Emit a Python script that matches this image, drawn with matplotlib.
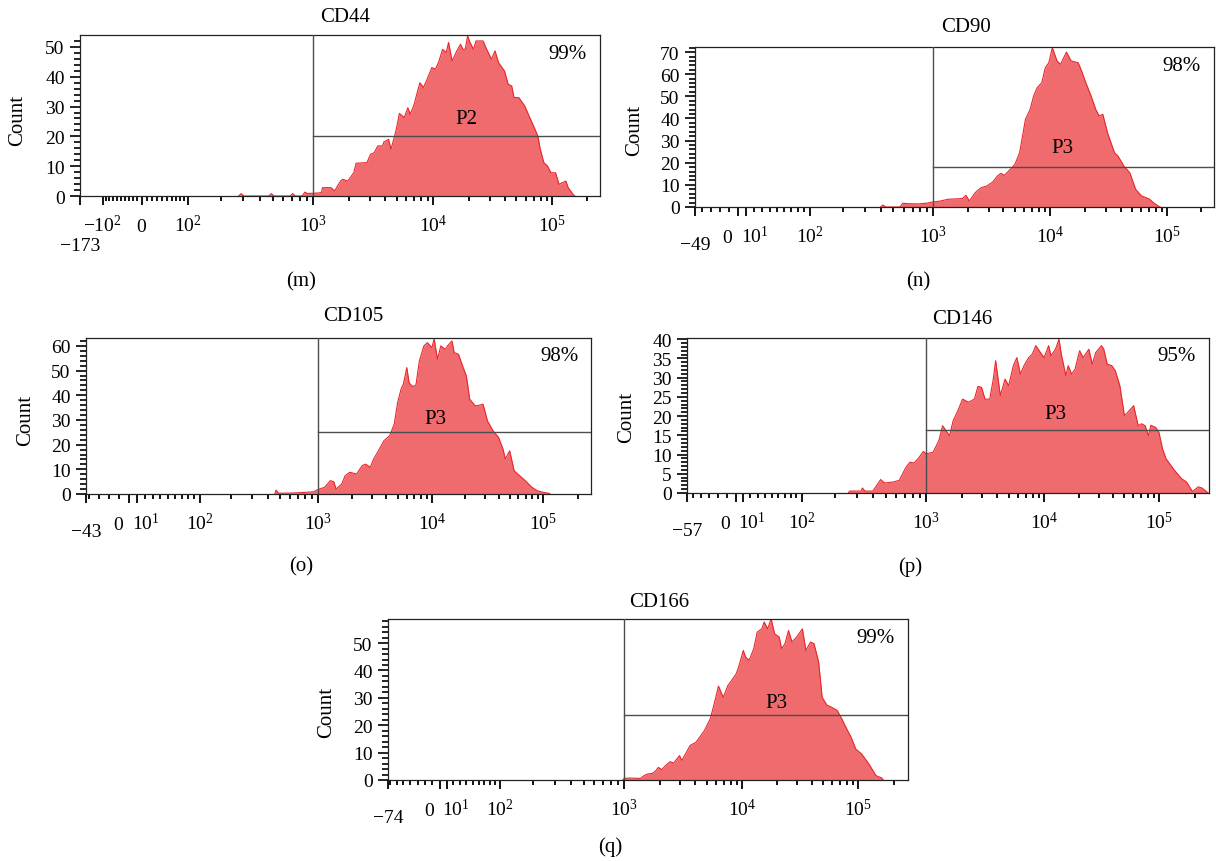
import numpy as np
import matplotlib
matplotlib.use('Agg')
import matplotlib.pyplot as plt
import matplotlib.transforms as mtransforms

plt.rcParams['font.family'] = ['Liberation Serif', 'DejaVu Serif']
plt.rcParams['mathtext.fontset'] = 'custom'
plt.rcParams['mathtext.rm'] = 'Liberation Serif'
plt.rcParams['mathtext.it'] = 'Liberation Serif:italic'

W, H = 1216, 862

# ---- histogram outlines (log10 intensity, count) ----
cd44_log = [2.44, 2.46, 2.48, 2.67, 2.69, 2.71, 2.83, 2.85, 2.87, 2.92,
            2.94, 2.96, 2.98, 3.00, 3.07, 3.08, 3.15, 3.18, 3.23, 3.25,
            3.29, 3.34, 3.36, 3.45, 3.48, 3.51, 3.54, 3.58, 3.59, 3.63,
            3.65, 3.68, 3.70, 3.72, 3.76, 3.79, 3.81, 3.84, 3.89, 3.92,
            3.95, 3.99, 4.02, 4.05, 4.08, 4.11, 4.13, 4.16, 4.20, 4.23,
            4.25, 4.27, 4.29, 4.31, 4.34, 4.36, 4.42, 4.45, 4.49, 4.52,
            4.55, 4.60, 4.63, 4.66, 4.68, 4.72, 4.77, 4.80, 4.85, 4.88,
            4.90, 4.93, 4.96, 4.99, 5.03, 5.06, 5.09, 5.12, 5.14, 5.19,
            5.20]
cd44_count = [0, 0.8, 0, 0, 0.8, 0, 0, 0.8, 0, 0,
              1.3, 0.8, 0.9, 0.9, 1.1, 2.8, 2.8, 1.7, 5.0, 5.6,
              5.0, 7.8, 11.0, 11.2, 14.0, 14.5, 16.8, 16.8, 18.1, 19.0,
              15.7, 20.1, 23.5, 27.7, 26.3, 29.6, 27.4, 30.4, 38.0, 36.4,
              39.1, 43.1, 42.5, 45.3, 49.2, 48.1, 51.5, 45.3, 48.7, 50.9,
              49.2, 49.2, 53.7, 51.5, 49.2, 52.0, 52.0, 49.2, 45.9, 48.7,
              44.7, 41.9, 37.5, 36.9, 33.0, 33.0, 30.2, 27.4, 22.9, 20.1,
              15.7, 11.2, 10.1, 7.8, 7.8, 3.9, 4.5, 5.0, 2.8, 0.2,
              0]

cd90_log = [2.60, 2.62, 2.64, 2.75, 2.77, 2.81, 2.89, 2.95, 3.00, 3.05,
            3.13, 3.25, 3.28, 3.31, 3.36, 3.41, 3.46, 3.51, 3.55, 3.58,
            3.61, 3.66, 3.70, 3.74, 3.79, 3.83, 3.86, 3.89, 3.93, 3.96,
            3.99, 4.02, 4.06, 4.09, 4.14, 4.18, 4.24, 4.27, 4.30, 4.35,
            4.39, 4.42, 4.45, 4.49, 4.55, 4.58, 4.63, 4.68, 4.73, 4.78,
            4.82, 4.85, 4.88, 4.93, 4.94]
cd90_count = [0, 0.9, 0, 0, 1.7, 1.5, 1.4, 1.7, 2.3, 2.6,
              3.5, 3.8, 5.3, 2.7, 6.5, 8.7, 9.5, 11.3, 14.0, 15.2,
              14.3, 17.0, 19.3, 24.5, 39.6, 44.1, 50.2, 53.9, 56.2, 63.0,
              65.2, 72.0, 66.0, 64.5, 70.0, 66.0, 65.2, 61.4, 56.9, 50.2,
              44.1, 41.1, 41.9, 33.6, 24.5, 23.0, 18.5, 15.5, 8.0, 5.0,
              4.2, 3.5, 2.0, 0.2, 0]

cd105_log = [2.66, 2.67, 2.69, 2.81, 2.91, 2.97, 3.00, 3.06, 3.11, 3.14,
             3.16, 3.21, 3.24, 3.28, 3.34, 3.39, 3.42, 3.46, 3.49, 3.54,
             3.58, 3.63, 3.67, 3.70, 3.73, 3.75, 3.78, 3.80, 3.83, 3.86,
             3.89, 3.93, 3.96, 4.00, 4.02, 4.05, 4.08, 4.12, 4.14, 4.18,
             4.20, 4.24, 4.27, 4.31, 4.34, 4.39, 4.43, 4.46, 4.50, 4.55,
             4.60, 4.64, 4.66, 4.70, 4.74, 4.79, 4.84, 4.90, 4.95, 5.00,
             5.05, 5.06]
cd105_count = [0, 1.6, 0.3, 0.4, 0.7, 0.9, 1.8, 2.7, 5.4, 5.0,
               2.0, 4.0, 7.4, 8.8, 8.1, 11.5, 12.1, 10.8, 14.2, 18.2,
               21.6, 23.6, 28.3, 37.1, 42.5, 44.5, 51.2, 45.1, 43.5, 44.1,
               53.9, 60.0, 61.3, 59.3, 62.9, 54.6, 60.0, 58.6, 60.0, 62.0,
               57.3, 56.6, 52.6, 47.8, 38.4, 35.7, 36.0, 36.4, 29.6, 25.6,
               22.9, 18.2, 14.2, 17.5, 9.4, 7.4, 5.4, 2.7, 1.3, 0.7,
               0.3, 0]

cd146_log = [2.41, 2.42, 2.51, 2.52, 2.54, 2.60, 2.63, 2.66, 2.69, 2.76,
             2.80, 2.85, 2.88, 2.91, 2.94, 2.98, 3.00, 3.06, 3.11, 3.14,
             3.17, 3.20, 3.23, 3.27, 3.31, 3.36, 3.41, 3.44, 3.47, 3.50,
             3.54, 3.57, 3.59, 3.63, 3.67, 3.70, 3.74, 3.77, 3.80, 3.83,
             3.87, 3.90, 3.93, 3.97, 4.00, 4.04, 4.06, 4.10, 4.13, 4.15,
             4.19, 4.21, 4.24, 4.27, 4.31, 4.34, 4.39, 4.42, 4.45, 4.50,
             4.52, 4.55, 4.59, 4.62, 4.66, 4.70, 4.73, 4.78, 4.82, 4.85,
             4.88, 4.91, 4.93, 4.97, 5.00, 5.03, 5.06, 5.13, 5.19, 5.23,
             5.28, 5.33, 5.36, 5.40, 5.41]
cd146_count = [0, 0.5, 0.5, 1.3, 0.5, 0.5, 2.0, 3.5, 2.6, 2.9,
               3.3, 6.7, 8.0, 7.8, 8.9, 10.8, 10.2, 10.6, 13.7, 17.5,
               16.2, 14.9, 18.8, 21.4, 24.4, 23.6, 24.4, 27.7, 27.5, 24.4,
               24.4, 29.6, 34.4, 25.3, 29.6, 27.9, 33.1, 35.2, 30.9, 33.1,
               35.2, 36.1, 38.3, 36.5, 35.2, 38.3, 35.7, 37.4, 40.0, 36.1,
               30.5, 33.1, 30.9, 32.2, 37.0, 35.2, 37.4, 33.5, 36.5, 38.3,
               37.4, 33.5, 33.1, 31.8, 27.9, 20.1, 21.0, 22.7, 17.5, 18.0,
               17.5, 14.9, 17.6, 17.1, 15.8, 11.5, 8.9, 5.9, 3.7, 2.9,
               0.4, 1.6, 1.3, 0.3, 0]

cd166_log = [2.99, 3.00, 3.05, 3.14, 3.17, 3.20, 3.24, 3.27, 3.29, 3.32,
             3.35, 3.39, 3.42, 3.47, 3.49, 3.52, 3.56, 3.61, 3.64, 3.68,
             3.73, 3.76, 3.80, 3.84, 3.88, 3.91, 3.95, 3.97, 4.01, 4.03,
             4.06, 4.10, 4.13, 4.17, 4.19, 4.22, 4.25, 4.28, 4.32, 4.34,
             4.37, 4.40, 4.43, 4.47, 4.52, 4.55, 4.59, 4.62, 4.66, 4.69,
             4.73, 4.77, 4.82, 4.86, 4.91, 4.94, 4.98, 5.03, 5.08, 5.09,
             5.15, 5.20, 5.21]
cd166_count = [0, 0.6, 0.7, 0.6, 1.6, 2.2, 2.4, 3.4, 4.6, 3.8,
               5.2, 6.7, 6.2, 8.9, 7.1, 9.5, 12.6, 13.8, 15.6, 18.0,
               22.3, 27.2, 34.3, 30.2, 34.5, 36.3, 38.8, 41.2, 47.3, 44.9,
               43.7, 47.9, 54.0, 55.2, 57.7, 55.2, 58.9, 53.4, 52.2, 47.9,
               49.8, 54.6, 50.4, 52.2, 55.2, 47.3, 50.4, 49.8, 43.0, 30.2,
               27.4, 26.6, 25.4, 22.3, 18.0, 15.6, 11.3, 9.5, 6.5, 5.9,
               1.6, 0.7, 0]

titles = ['CD44', 'CD90', 'CD105', 'CD146', 'CD166']
tags = ['(m)', '(n)', '(o)', '(p)', '(q)']
gate_names = ['P2', 'P3', 'P3', 'P3', 'P3']
percents = ['99%', '98%', '98%', '95%', '99%']
gate_levels = [20.1, 18.1, 25.3, 16.5, 23.8]
gate_label_log = [4.28, 4.11, 4.03, 4.10, 4.30]
gate_label_count = [26.0, 26.8, 30.6, 20.6, 28.4]
axis_min = [-173, -49, -43, -57, -74]
axis_max = 262144
y_max = [54.0, 72.3, 63.2, 40.3, 58.8]
y_step = [10, 10, 10, 5, 10]

hist_log = [cd44_log, cd90_log, cd105_log, cd146_log, cd166_log]
hist_count = [cd44_count, cd90_count, cd105_count, cd146_count, cd166_count]

# ---- layout (pixel boxes of the frames: left, top, right, bottom) ----
boxes = [(80, 36, 600, 197), (695, 48, 1214, 208), (86, 339, 591, 495),
         (687, 339, 1209, 494), (388, 620, 908, 781)]
title_pos = [(345, 17), (966, 28), (353, 317), (962, 320), (659, 603)]
tag_pos = [(301, 282), (918, 282), (301, 567), (910, 567), (610, 847)]
count_pos = [(18, 120), (635, 130), (26, 420), (627, 417), (327, 712)]
# where the display decades sit, as fraction of the frame width
axis_frac = [[0, 0.044, 0.119, 0.208, 0.448, 0.679, 0.908, 1],
             [0, 0.083, 0.098, 0.222, 0.459, 0.684, 0.910, 1],
             [0, 0.085, 0.101, 0.226, 0.459, 0.685, 0.905, 1],
             [0, 0.094, 0.107, 0.220, 0.458, 0.684, 0.904, 1],
             [0, 0.100, 0.113, 0.215, 0.454, 0.681, 0.904, 1]]

fill_col = '#f06b6e'
edge_col = '#e8262b'
gate_col = '#4d4d4d'
fs = 14
fs_big = 15


def biex_scale(vals, fracs, c=100.0):
    u = np.arcsinh(np.asarray(vals, float) / c)
    f = np.asarray(fracs, float)
    s0 = (f[1] - f[0]) / (u[1] - u[0])
    s1 = (f[-1] - f[-2]) / (u[-1] - u[-2])
    u = np.r_[u[0] - 100, u, u[-1] + 100]
    f = np.r_[f[0] - 100 * s0, f, f[-1] + 100 * s1]

    def fwd(x):
        return np.interp(np.arcsinh(np.asarray(x, float) / c), u, f)

    def inv(y):
        return c * np.sinh(np.interp(np.asarray(y, float), f, u))
    return fwd, inv


fig = plt.figure(figsize=(W / 100, H / 100), dpi=100)

for i in range(5):
    l, t, r, b = boxes[i]
    ax = fig.add_axes([l / W, 1 - b / H, (r - l) / W, (b - t) / H])
    lo = axis_min[i]
    if i == 0:
        vals = [lo, -100, 0, 100, 1e3, 1e4, 1e5, axis_max]
        major = [lo, -100, 0, 100, 1e3, 1e4, 1e5]
        labels = [r'$-10^{2}$', r'$0$', r'$10^{2}$', r'$10^{3}$', r'$10^{4}$', r'$10^{5}$']
        minor = list(range(-90, 0, 10)) + list(range(10, 100, 10))
    else:
        vals = [lo, 0, 10, 100, 1e3, 1e4, 1e5, axis_max]
        major = [lo, 0, 10, 100, 1e3, 1e4, 1e5]
        labels = [r'$0$', r'$10^{1}$', r'$10^{2}$', r'$10^{3}$', r'$10^{4}$', r'$10^{5}$']
        minor = list(range(-10 * (abs(lo) // 10), 0, 10)) + list(range(20, 100, 10))
    for dec in (100, 1000, 10000):
        minor += [k * dec for k in range(2, 10)]
    minor.append(2e5)

    fwd, inv = biex_scale(vals, axis_frac[i])
    ax.set_xscale('function', functions=(fwd, inv))
    ax.set_xlim(lo, axis_max)
    ax.set_ylim(0, y_max[i])

    x = 10 ** np.array(hist_log[i])
    y = np.array(hist_count[i])
    ax.fill_between(x, y, 0, color=fill_col, lw=0, zorder=1)
    ax.plot(x, y, color=edge_col, lw=0.8, zorder=1.5)

    # gate
    g = gate_levels[i]
    ax.plot([1e3, 1e3], [0, y_max[i]], color=gate_col, lw=1.0, zorder=3)
    ax.plot([1e3, axis_max], [g, g], color=gate_col, lw=1.0, zorder=3)
    ax.text(10 ** gate_label_log[i], gate_label_count[i], gate_names[i],
            fontsize=fs_big, ha='center', va='center', zorder=4)
    ax.text(0.937, 0.885, percents[i], transform=ax.transAxes,
            fontsize=fs_big, ha='center', va='center')

    # axes cosmetics
    for sp in ax.spines.values():
        sp.set_linewidth(0.9)
        sp.set_color('#222222')
    ax.set_xticks(major, labels=[''] * len(major))
    ax.set_xticks(minor, minor=True)
    ax.tick_params(axis='x', which='major', direction='out', length=6.5, width=1.3)
    ax.tick_params(axis='x', which='minor', direction='out', length=3.4, width=1.3)
    ax.set_yticks(np.arange(0, y_max[i] + 0.01, y_step[i]))
    ax.set_yticks(np.arange(0, y_max[i], y_step[i] / 5), minor=True)
    ax.tick_params(axis='y', which='major', direction='out', length=7.5, width=1.2,
                   labelsize=fs, pad=3.5)
    ax.tick_params(axis='y', which='minor', direction='out', length=4.0, width=1.2)

    # x tick labels, baseline aligned like the original
    blend = mtransforms.blended_transform_factory(ax.transData, ax.transAxes)
    for v, lab in zip(major[1:], labels):
        ha, dx = 'center', 0
        if i > 0 and v == 0:
            ha, dx = 'right', -5
        elif i > 0 and v == 10:
            ha, dx = 'left', -5
        off = mtransforms.ScaledTranslation(dx / 100, -35 / 100, fig.dpi_scale_trans)
        ax.text(v, 0, lab, transform=blend + off, ha=ha, va='baseline', fontsize=fs)
    drop = 54 if i == 0 else 42
    off = mtransforms.ScaledTranslation(0, -drop / 100, fig.dpi_scale_trans)
    ax.text(lo, 0, '\u2212' + str(abs(lo)), transform=blend + off,
            ha='center', va='baseline', fontsize=fs)

    fig.text(title_pos[i][0] / W, 1 - title_pos[i][1] / H, titles[i],
             fontsize=fs_big, ha='center', va='center')
    fig.text(tag_pos[i][0] / W, 1 - tag_pos[i][1] / H, tags[i],
             fontsize=fs_big, ha='center', va='center')
    fig.text(count_pos[i][0] / W, 1 - count_pos[i][1] / H, 'Count',
             fontsize=fs_big, ha='center', va='center', rotation=90)

fig.savefig('out.png', dpi=100)
